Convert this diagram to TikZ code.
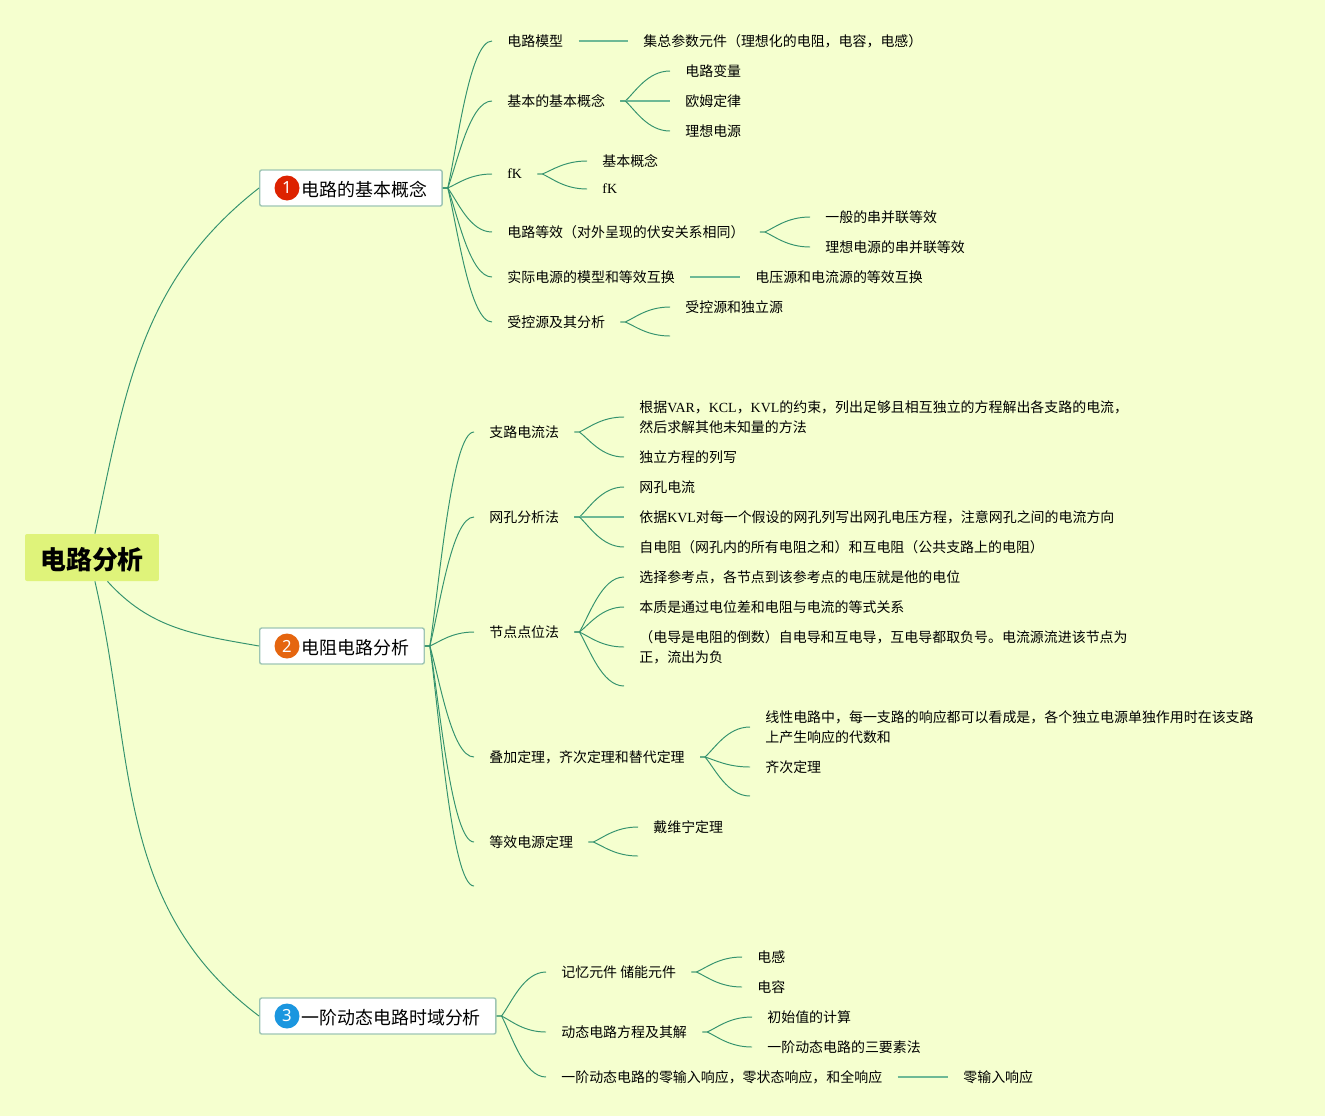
\documentclass[tikz,border=0pt]{standalone}
\usepackage{fontspec}
\setmainfont{Noto Sans CJK SC}
\newfontfamily\wenfont{Liberation Serif}
\newfontfamily\numfont{Noto Sans}
\newcommand{\wen}[1]{{\wenfont #1}}
\usetikzlibrary{calc}
\definecolor{pagebg}{RGB}{245,255,207}
\definecolor{rootbg}{RGB}{223,243,122}
\definecolor{linkgreen}{RGB}{52,146,110}
\definecolor{stemgreen}{RGB}{110,185,150}
\definecolor{topicline}{RGB}{158,197,180}
\begin{document}
\begin{tikzpicture}[
	x=0.02cm, y=-0.02cm,
	root/.style={ fill=rootbg, rounded corners=0.04cm, minimum width=2.68cm, minimum height=0.94cm, inner sep=0pt, text height=0.52cm, text depth=0.04cm, font=\fontsize{14.7}{18}\selectfont\bfseries },
	topic/.style={ anchor=west, draw=topicline, line width=0.8pt, fill=white, rounded corners=0.04cm, minimum height=0.72cm, inner xsep=0.3cm, inner ysep=0pt, text height=0.35cm, text depth=0.02cm, font=\fontsize{10.2}{15}\selectfont, execute at begin node={\hspace*{0.54cm}} },
	badge/.style={ circle, inner sep=0pt, minimum size=0.5cm, text=white, font=\fontsize{9.5}{11}\selectfont\numfont },
	leaf/.style={ anchor=west, inner xsep=0.3cm, inner ysep=0pt, align=left, font=\fontsize{7.94}{11.34}\selectfont },
	link/.style={ linkgreen, line width=0.55pt },
	stem/.style={ stemgreen, line width=0.9pt },
	curve/.style={ to path={ let \p1=(\tikztostart), \p2=(\tikztotarget) in -- ({\x1+0.1*(\x2-\x1)},\y1) .. controls ({\x1+0.3*(\x2-\x1)},{\y1+0.3*(\y2-\y1)}) and ({\x1+0.55*(\x2-\x1)},\y2) .. (\tikztotarget) } }
]

\fill[pagebg] (0,0) rectangle (1325,1116);
\useasboundingbox (0,0) rectangle (1325,1116);

\node at (92,557.5) (root) [root] {电路分析};
\node at (259,188) (t1) [topic] {电路的基本概念};
\node at (259,646) (t2) [topic] {电阻电路分析};
\node at (259,1016) (t3) [topic] {一阶动态电路时域分析};
\node at (287,188) (i1) [badge,fill={rgb,255:red,221;green,34;blue,0}] {1};
\node at (287,646) (i2) [badge,fill={rgb,255:red,229;green,101;blue,15}] {2};
\node at (287,1016) (i3) [badge,fill={rgb,255:red,27;green,150;blue,223}] {3};
\draw[link] (root.83) to[out=78,in=218] (t1.west);
\draw[link] (root.-57) to[out=-48,in=170] (t2.west);
\draw[link] (root.-83) to[out=-77,in=143] (t3.west);

\node at (492,41) (a1) [leaf] {电路模型};
\node at (492,101) (a2) [leaf] {基本的基本概念};
\node at (492,174) (a3) [leaf] {\wen{fK}};
\node at (492,232) (a4) [leaf] {电路等效（对外呈现的伏安关系相同）};
\node at (492,277) (a5) [leaf] {实际电源的模型和等效互换};
\node at (492,322) (a6) [leaf] {受控源及其分析};
\foreach \kid in {a1,a2,a3,a4,a5,a6}
	\draw[link] (t1.east) to[curve] (\kid.west);

\node at (628,41) (a11) [leaf] {集总参数元件（理想化的电阻，电容，电感）};
\draw[stem] (a1.east) to (a11.west);
\node at (670,71) (a21) [leaf] {电路变量};
\node at (670,101) (a22) [leaf] {欧姆定律};
\node at (670,131) (a23) [leaf] {理想电源};
\draw[link] (a2.east) to[curve] (a21.west);
\draw[stem] (a2.east) to (a22.west);
\draw[link] (a2.east) to[curve] (a23.west);
\node at (587,161) (a31) [leaf] {基本概念};
\node at (587,189) (a32) [leaf] {\wen{fK}};
\draw[link] (a3.east) to[curve] (a31.west);
\draw[link] (a3.east) to[curve] (a32.west);
\node at (810,217) (a41) [leaf] {一般的串并联等效};
\node at (810,247) (a42) [leaf] {理想电源的串并联等效};
\draw[link] (a4.east) to[curve] (a41.west);
\draw[link] (a4.east) to[curve] (a42.west);
\node at (740,277) (a51) [leaf] {电压源和电流源的等效互换};
\draw[stem] (a5.east) to (a51.west);
\node at (670,307) (a61) [leaf] {受控源和独立源};
\coordinate (a62) at (670,336);
\draw[link] (a6.east) to[curve] (a61.west);
\draw[link] (a6.east) to[curve] (a62);

\node at (474,432) (b1) [leaf] {支路电流法};
\node at (474,517) (b2) [leaf] {网孔分析法};
\node at (474,632) (b3) [leaf] {节点点位法};
\node at (474,757) (b4) [leaf] {叠加定理，齐次定理和替代定理};
\node at (474,842) (b5) [leaf] {等效电源定理};
\coordinate (b6) at (474,886);
\foreach \kid in {b1,b2,b3,b4,b5}
	\draw[link] (t2.east) to[curve] (\kid.west);
\draw[link] (t2.east) to[curve] (b6);

\node at (624,417) (b11) [leaf] {根据\wen{VAR}，\wen{KCL}，\wen{KVL}的约束，列出足够且相互独立的方程解出各支路的电流，\\然后求解其他未知量的方法};
\node at (624,457) (b12) [leaf] {独立方程的列写};
\draw[link] (b1.east) to[curve] (b11.west);
\draw[link] (b1.east) to[curve] (b12.west);
\node at (624,487) (b21) [leaf] {网孔电流};
\node at (624,517) (b22) [leaf] {依据\wen{KVL}对每一个假设的网孔列写出网孔电压方程，注意网孔之间的电流方向};
\node at (624,547) (b23) [leaf] {自电阻（网孔内的所有电阻之和）和互电阻（公共支路上的电阻）};
\draw[link] (b2.east) to[curve] (b21.west);
\draw[stem] (b2.east) to (b22.west);
\draw[link] (b2.east) to[curve] (b23.west);
\node at (624,577) (b31) [leaf] {选择参考点，各节点到该参考点的电压就是他的电位};
\node at (624,607) (b32) [leaf] {本质是通过电位差和电阻与电流的等式关系};
\node at (624,647) (b33) [leaf] {（电导是电阻的倒数）自电导和互电导，互电导都取负号。电流源流进该节点为\\正，流出为负};
\coordinate (b34) at (624,686);
\foreach \kid in {b31,b32,b33}
	\draw[link] (b3.east) to[curve] (\kid.west);
\draw[link] (b3.east) to[curve] (b34);
\node at (750,727) (b41) [leaf] {线性电路中，每一支路的响应都可以看成是，各个独立电源单独作用时在该支路\\上产生响应的代数和};
\node at (750,767) (b42) [leaf] {齐次定理};
\coordinate (b43) at (750,796);
\draw[link] (b4.east) to[curve] (b41.west);
\draw[link] (b4.east) to[curve] (b42.west);
\draw[link] (b4.east) to[curve] (b43);
\node at (638,827) (b51) [leaf] {戴维宁定理};
\coordinate (b52) at (638,856);
\draw[link] (b5.east) to[curve] (b51.west);
\draw[link] (b5.east) to[curve] (b52);

\node at (546,972) (c1) [leaf] {记忆元件 储能元件};
\node at (546,1032) (c2) [leaf] {动态电路方程及其解};
\node at (546,1077) (c3) [leaf] {一阶动态电路的零输入响应，零状态响应，和全响应};
\foreach \kid in {c1,c2,c3}
	\draw[link] (t3.east) to[curve] (\kid.west);

\node at (742,957) (c11) [leaf] {电感};
\node at (742,987) (c12) [leaf] {电容};
\draw[link] (c1.east) to[curve] (c11.west);
\draw[link] (c1.east) to[curve] (c12.west);
\node at (752,1017) (c21) [leaf] {初始值的计算};
\node at (752,1047) (c22) [leaf] {一阶动态电路的三要素法};
\draw[link] (c2.east) to[curve] (c21.west);
\draw[link] (c2.east) to[curve] (c22.west);
\node at (948,1077) (c31) [leaf] {零输入响应};
\draw[stem] (c3.east) to (c31.west);

\end{tikzpicture}
\end{document}
